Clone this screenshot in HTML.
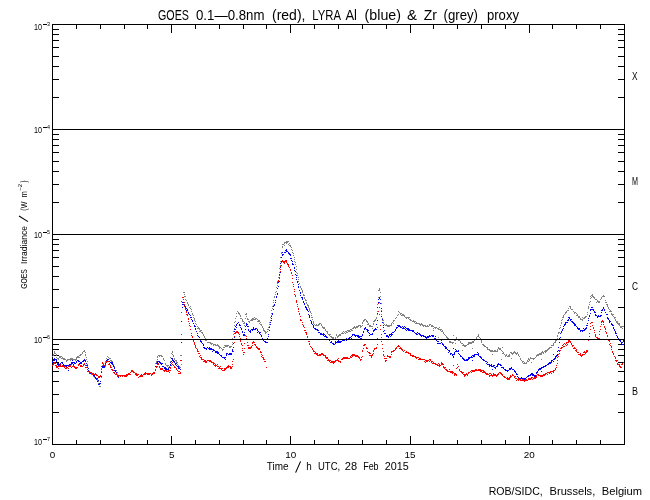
<!DOCTYPE html><html><head><meta charset="utf-8"><style>html,body{margin:0;padding:0;background:#fff}svg{display:block}svg{will-change:transform}text{font-family:"Liberation Sans",sans-serif;fill:#000}</style></head><body>
<svg width="650" height="500" viewBox="0 0 650 500">
<rect width="650" height="500" fill="#fff"/>
<path d="M52.5 24.5H624.5V444.5H52.5ZM53 412.5h6M624 412.5h-6M53 394.5h6M624 394.5h-6M53 381.5h6M624 381.5h-6M53 371.5h6M624 371.5h-6M53 362.5h6M624 362.5h-6M53 355.5h6M624 355.5h-6M53 349.5h6M624 349.5h-6M53 344.5h6M624 344.5h-6M53 307.5h6M624 307.5h-6M53 289.5h6M624 289.5h-6M53 276.5h6M624 276.5h-6M53 266.5h6M624 266.5h-6M53 257.5h6M624 257.5h-6M53 250.5h6M624 250.5h-6M53 244.5h6M624 244.5h-6M53 239.5h6M624 239.5h-6M53 202.5h6M624 202.5h-6M53 184.5h6M624 184.5h-6M53 171.5h6M624 171.5h-6M53 161.5h6M624 161.5h-6M53 152.5h6M624 152.5h-6M53 145.5h6M624 145.5h-6M53 139.5h6M624 139.5h-6M53 134.5h6M624 134.5h-6M53 97.5h6M624 97.5h-6M53 79.5h6M624 79.5h-6M53 66.5h6M624 66.5h-6M53 56.5h6M624 56.5h-6M53 47.5h6M624 47.5h-6M53 40.5h6M624 40.5h-6M53 34.5h6M624 34.5h-6M53 29.5h6M624 29.5h-6M76.5 444v-4M76.5 25v4M100.5 444v-4M100.5 25v4M124.5 444v-4M124.5 25v4M147.5 444v-4M147.5 25v4M171.5 444v-8M171.5 25v8M195.5 444v-4M195.5 25v4M219.5 444v-4M219.5 25v4M243.5 444v-4M243.5 25v4M266.5 444v-4M266.5 25v4M290.5 444v-8M290.5 25v8M314.5 444v-4M314.5 25v4M338.5 444v-4M338.5 25v4M362.5 444v-4M362.5 25v4M386.5 444v-4M386.5 25v4M410.5 444v-8M410.5 25v8M433.5 444v-4M433.5 25v4M457.5 444v-4M457.5 25v4M481.5 444v-4M481.5 25v4M505.5 444v-4M505.5 25v4M529.5 444v-8M529.5 25v8M552.5 444v-4M552.5 25v4M576.5 444v-4M576.5 25v4M600.5 444v-4M600.5 25v4" stroke="#000" stroke-width="1" fill="none" shape-rendering="crispEdges"/>
<text transform="translate(158.00 20) scale(0.7398 1)" font-size="14.5" fill="#000">GOES</text>
<text transform="translate(196.00 20) scale(0.9139 1)" font-size="14.5" fill="#000">0.1—0.8nm</text>
<text transform="translate(272.00 20) scale(0.9671 1)" font-size="14.5" fill="#000">(red),</text>
<text transform="translate(312.30 20) scale(0.7799 1)" font-size="14.5" fill="#000">LYRA</text>
<text transform="translate(345.40 20) scale(0.8999 1)" font-size="14.5" fill="#000">Al</text>
<text transform="translate(364.60 20) scale(0.9818 1)" font-size="14.5" fill="#000">(blue)</text>
<text transform="translate(407.00 20) scale(1.0340 1)" font-size="14.5" fill="#000">&amp;</text>
<text transform="translate(423.80 20) scale(0.9643 1)" font-size="14.5" fill="#000">Zr</text>
<text transform="translate(443.50 20) scale(0.9113 1)" font-size="14.5" fill="#000">(grey)</text>
<text transform="translate(487.00 20) scale(0.9026 1)" font-size="14.5" fill="#000">proxy</text>
<text transform="translate(266.70 470) scale(0.9781 1)" font-size="10.2" fill="#000">Time</text>
<text transform="translate(306.30 470) scale(0.9698 1)" font-size="10.2" fill="#000">h</text>
<text transform="translate(318.00 470) scale(0.9329 1)" font-size="10.2" fill="#000">UTC,</text>
<text transform="translate(344.80 470) scale(1.0844 1)" font-size="10.2" fill="#000">28</text>
<text transform="translate(363.20 470) scale(0.8763 1)" font-size="10.2" fill="#000">Feb</text>
<text transform="translate(384.80 470) scale(1.0575 1)" font-size="10.2" fill="#000">2015</text>
<text transform="translate(488.70 495) scale(0.9123 1)" font-size="11.6" fill="#000">ROB/SIDC,</text>
<text transform="translate(549.60 495) scale(0.9581 1)" font-size="11.6" fill="#000">Brussels,</text>
<text transform="translate(601.80 495) scale(0.9616 1)" font-size="11.6" fill="#000">Belgium</text>
<text transform="translate(632.00 80) scale(0.7109 1)" font-size="11.6" fill="#000">X</text>
<text transform="translate(632.00 185) scale(0.6209 1)" font-size="11.6" fill="#000">M</text>
<text transform="translate(632.00 290) scale(0.7164 1)" font-size="11.6" fill="#000">C</text>
<text transform="translate(632.00 395) scale(0.7755 1)" font-size="11.6" fill="#000">B</text>
<text transform="translate(34.00 30) scale(0.8464 1)" font-size="8.5" fill="#000">10</text>
<rect x="43" y="24" width="4" height="1" fill="#000"/>
<text transform="translate(47.00 26) scale(0.9466 1)" font-size="5.7" fill="#000">3</text>
<text transform="translate(34.00 133) scale(0.8464 1)" font-size="8.5" fill="#000">10</text>
<rect x="43" y="127" width="4" height="1" fill="#000"/>
<text transform="translate(47.00 129) scale(0.9466 1)" font-size="5.7" fill="#000">4</text>
<text transform="translate(34.00 238) scale(0.8464 1)" font-size="8.5" fill="#000">10</text>
<rect x="43" y="232" width="4" height="1" fill="#000"/>
<text transform="translate(47.00 234) scale(0.9466 1)" font-size="5.7" fill="#000">5</text>
<text transform="translate(34.00 343) scale(0.8464 1)" font-size="8.5" fill="#000">10</text>
<rect x="43" y="337" width="4" height="1" fill="#000"/>
<text transform="translate(47.00 339) scale(0.9466 1)" font-size="5.7" fill="#000">6</text>
<text transform="translate(34.00 445) scale(0.8464 1)" font-size="8.5" fill="#000">10</text>
<rect x="43" y="439" width="4" height="1" fill="#000"/>
<text transform="translate(47.00 441) scale(0.9466 1)" font-size="5.7" fill="#000">7</text>
<text transform="translate(49.75 458) scale(1.1638 1)" font-size="8.5" fill="#000">0</text>
<text transform="translate(168.92 458) scale(1.1638 1)" font-size="8.5" fill="#000">5</text>
<text transform="translate(285.33 458) scale(1.1638 1)" font-size="8.5" fill="#000">10</text>
<text transform="translate(404.50 458) scale(1.1638 1)" font-size="8.5" fill="#000">15</text>
<text transform="translate(523.67 458) scale(1.1638 1)" font-size="8.5" fill="#000">20</text>
<text transform="translate(26.5 0) rotate(-90) translate(-288.70 0) scale(0.7756 1)" font-size="8.7">GOES</text>
<text transform="translate(26.5 0) rotate(-90) translate(-263.90 0) scale(0.9770 1)" font-size="8.7">Irradiance</text>
<text transform="translate(26.5 0) rotate(-90) translate(-210.70 0) scale(0.8191 1)" font-size="8.7">(W</text>
<text transform="translate(26.5 0) rotate(-90) translate(-197.60 0) scale(0.8693 1)" font-size="8.7">m</text>
<text transform="translate(26.5 0) rotate(-90) translate(-182.50 0) scale(0.6903 1)" font-size="8.7">)</text>
<text transform="translate(22 0) rotate(-90) translate(-190.70 0) scale(1.0311 1)" font-size="5.7">−2</text>
<path d="M295.6 472.6L300.6 461.4M19 216L28 221.6" stroke="#000" stroke-width="1.1" fill="none"/>
<path d="M286 241h3v1h-3zM284 242h4v1h-4zM284 243h1v1h-1zM286 243h1v1h-1zM289 243h1v1h-1zM282 244h2v1h-2zM288 244h1v1h-1zM284 245h1v1h-1zM289 245h2v1h-2zM282 246h1v1h-1zM290 246h1v1h-1zM282 247h1v1h-1zM291 247h1v1h-1zM291 249h1v1h-1zM292 250h1v1h-1zM281 252h1v1h-1zM292 252h1v1h-1zM281 253h1v1h-1zM293 253h1v1h-1zM293 255h1v1h-1zM280 257h1v1h-1zM294 257h1v1h-1zM294 259h1v1h-1zM280 261h1v1h-1zM294 261h1v1h-1zM295 262h1v1h-1zM295 264h1v1h-1zM280 265h1v1h-1zM296 266h1v1h-1zM279 268h1v1h-1zM296 269h1v1h-1zM279 272h1v1h-1zM296 272h1v1h-1zM297 273h1v1h-1zM279 275h1v1h-1zM297 275h1v1h-1zM278 277h1v1h-1zM298 277h1v1h-1zM298 279h1v1h-1zM278 280h1v1h-1zM277 281h1v1h-1zM298 281h1v1h-1zM277 283h1v1h-1zM299 283h1v1h-1zM277 285h1v1h-1zM300 286h1v1h-1zM276 287h1v1h-1zM300 287h1v1h-1zM301 288h1v1h-1zM379 288h1v1h-1zM301 289h1v1h-1zM379 289h1v1h-1zM302 290h1v1h-1zM378 290h2v1h-2zM276 291h1v1h-1zM302 291h1v1h-1zM183 292h2v1h-2zM275 292h1v1h-1zM302 292h1v1h-1zM380 292h1v1h-1zM184 294h1v1h-1zM275 294h1v1h-1zM303 294h1v1h-1zM592 294h1v1h-1zM303 295h2v1h-2zM591 295h2v1h-2zM603 295h1v1h-1zM184 296h2v1h-2zM274 296h1v1h-1zM380 296h1v1h-1zM590 296h1v1h-1zM592 296h2v1h-2zM602 296h3v1h-3zM274 297h1v1h-1zM304 297h1v1h-1zM378 297h1v1h-1zM591 297h1v1h-1zM593 297h2v1h-2zM601 297h1v1h-1zM304 298h1v1h-1zM590 298h1v1h-1zM594 298h1v1h-1zM601 298h1v1h-1zM185 299h1v1h-1zM305 299h1v1h-1zM595 299h2v1h-2zM600 299h1v1h-1zM186 300h1v1h-1zM273 300h1v1h-1zM305 300h2v1h-2zM597 300h1v1h-1zM605 300h1v1h-1zM590 301h1v1h-1zM597 301h3v1h-3zM187 302h1v1h-1zM273 302h1v1h-1zM306 302h1v1h-1zM589 302h1v1h-1zM596 302h1v1h-1zM598 302h2v1h-2zM605 302h2v1h-2zM187 303h1v1h-1zM306 303h1v1h-1zM381 303h1v1h-1zM188 304h1v1h-1zM307 304h1v1h-1zM377 304h1v1h-1zM589 304h1v1h-1zM606 304h2v1h-2zM188 305h1v1h-1zM273 305h1v1h-1zM307 305h2v1h-2zM607 305h1v1h-1zM190 306h1v1h-1zM272 306h1v1h-1zM308 306h1v1h-1zM569 306h2v1h-2zM588 306h1v1h-1zM607 306h1v1h-1zM189 307h1v1h-1zM308 307h1v1h-1zM570 307h1v1h-1zM588 307h1v1h-1zM608 307h1v1h-1zM190 308h1v1h-1zM272 308h1v1h-1zM309 308h1v1h-1zM568 308h1v1h-1zM570 308h1v1h-1zM588 308h1v1h-1zM608 308h1v1h-1zM191 309h1v1h-1zM309 309h1v1h-1zM571 309h2v1h-2zM609 309h1v1h-1zM271 310h1v1h-1zM309 310h1v1h-1zM381 310h1v1h-1zM567 310h2v1h-2zM610 310h1v1h-1zM191 311h1v1h-1zM237 311h1v1h-1zM310 311h1v1h-1zM377 311h1v1h-1zM398 311h1v1h-1zM566 311h1v1h-1zM573 311h1v1h-1zM609 311h3v1h-3zM238 312h1v1h-1zM310 312h1v1h-1zM399 312h1v1h-1zM565 312h2v1h-2zM574 312h2v1h-2zM587 312h1v1h-1zM192 313h1v1h-1zM236 313h1v1h-1zM238 313h2v1h-2zM246 313h1v1h-1zM271 313h1v1h-1zM311 313h1v1h-1zM400 313h2v1h-2zM565 313h1v1h-1zM574 313h1v1h-1zM576 313h1v1h-1zM611 313h1v1h-1zM192 314h1v1h-1zM239 314h1v1h-1zM245 314h2v1h-2zM377 314h1v1h-1zM381 314h1v1h-1zM398 314h1v1h-1zM400 314h1v1h-1zM402 314h2v1h-2zM564 314h1v1h-1zM577 314h1v1h-1zM587 314h1v1h-1zM611 314h3v1h-3zM193 315h1v1h-1zM240 315h1v1h-1zM271 315h1v1h-1zM311 315h1v1h-1zM397 315h1v1h-1zM401 315h4v1h-4zM563 315h1v1h-1zM576 315h2v1h-2zM612 315h1v1h-1zM236 316h1v1h-1zM240 316h1v1h-1zM246 316h1v1h-1zM404 316h1v1h-1zM563 316h1v1h-1zM578 316h2v1h-2zM585 316h2v1h-2zM613 316h1v1h-1zM193 317h1v1h-1zM254 317h1v1h-1zM270 317h1v1h-1zM311 317h2v1h-2zM376 317h1v1h-1zM396 317h1v1h-1zM405 317h5v1h-5zM562 317h2v1h-2zM578 317h2v1h-2zM582 317h1v1h-1zM584 317h2v1h-2zM614 317h2v1h-2zM194 318h1v1h-1zM235 318h1v1h-1zM240 318h2v1h-2zM245 318h1v1h-1zM247 318h1v1h-1zM252 318h2v1h-2zM255 318h2v1h-2zM376 318h1v1h-1zM382 318h1v1h-1zM395 318h1v1h-1zM406 318h1v1h-1zM408 318h1v1h-1zM580 318h1v1h-1zM583 318h2v1h-2zM614 318h1v1h-1zM194 319h1v1h-1zM242 319h1v1h-1zM247 319h2v1h-2zM251 319h5v1h-5zM257 319h1v1h-1zM312 319h1v1h-1zM364 319h2v1h-2zM375 319h1v1h-1zM409 319h2v1h-2zM562 319h1v1h-1zM580 319h3v1h-3zM615 319h1v1h-1zM194 320h1v1h-1zM242 320h1v1h-1zM250 320h3v1h-3zM258 320h2v1h-2zM270 320h1v1h-1zM363 320h2v1h-2zM366 320h1v1h-1zM374 320h2v1h-2zM382 320h2v1h-2zM393 320h2v1h-2zM410 320h2v1h-2zM413 320h1v1h-1zM561 320h1v1h-1zM582 320h1v1h-1zM615 320h1v1h-1zM195 321h1v1h-1zM235 321h1v1h-1zM242 321h2v1h-2zM248 321h2v1h-2zM257 321h3v1h-3zM313 321h1v1h-1zM363 321h1v1h-1zM366 321h2v1h-2zM373 321h2v1h-2zM393 321h1v1h-1zM412 321h4v1h-4zM616 321h2v1h-2zM234 322h1v1h-1zM244 322h1v1h-1zM249 322h1v1h-1zM260 322h1v1h-1zM269 322h1v1h-1zM313 322h1v1h-1zM362 322h1v1h-1zM367 322h1v1h-1zM383 322h1v1h-1zM392 322h1v1h-1zM414 322h1v1h-1zM416 322h1v1h-1zM561 322h1v1h-1zM616 322h2v1h-2zM195 323h1v1h-1zM243 323h2v1h-2zM259 323h1v1h-1zM313 323h1v1h-1zM319 323h2v1h-2zM362 323h1v1h-1zM368 323h1v1h-1zM373 323h1v1h-1zM383 323h1v1h-1zM391 323h1v1h-1zM393 323h1v1h-1zM415 323h5v1h-5zM421 323h1v1h-1zM561 323h1v1h-1zM617 323h3v1h-3zM196 324h1v1h-1zM260 324h2v1h-2zM269 324h1v1h-1zM314 324h1v1h-1zM316 324h1v1h-1zM318 324h2v1h-2zM321 324h1v1h-1zM367 324h2v1h-2zM373 324h1v1h-1zM384 324h1v1h-1zM386 324h1v1h-1zM391 324h1v1h-1zM419 324h4v1h-4zM429 324h2v1h-2zM618 324h2v1h-2zM234 325h1v1h-1zM244 325h1v1h-1zM261 325h1v1h-1zM315 325h4v1h-4zM321 325h1v1h-1zM358 325h3v1h-3zM362 325h1v1h-1zM369 325h2v1h-2zM385 325h7v1h-7zM420 325h1v1h-1zM422 325h4v1h-4zM427 325h1v1h-1zM429 325h1v1h-1zM431 325h2v1h-2zM560 325h1v1h-1zM619 325h1v1h-1zM197 326h1v1h-1zM262 326h1v1h-1zM269 326h1v1h-1zM322 326h1v1h-1zM354 326h1v1h-1zM356 326h3v1h-3zM360 326h2v1h-2zM369 326h4v1h-4zM387 326h3v1h-3zM423 326h1v1h-1zM425 326h4v1h-4zM431 326h3v1h-3zM620 326h4v1h-4zM198 327h1v1h-1zM262 327h1v1h-1zM268 327h1v1h-1zM322 327h3v1h-3zM353 327h5v1h-5zM360 327h1v1h-1zM434 327h3v1h-3zM439 327h1v1h-1zM560 327h1v1h-1zM620 327h2v1h-2zM197 328h3v1h-3zM234 328h1v1h-1zM263 328h1v1h-1zM323 328h2v1h-2zM352 328h2v1h-2zM355 328h1v1h-1zM372 328h1v1h-1zM433 328h1v1h-1zM435 328h1v1h-1zM437 328h2v1h-2zM559 328h1v1h-1zM622 328h1v1h-1zM199 329h1v1h-1zM263 329h1v1h-1zM267 329h2v1h-2zM325 329h1v1h-1zM350 329h2v1h-2zM438 329h4v1h-4zM200 330h2v1h-2zM263 330h2v1h-2zM325 330h1v1h-1zM347 330h3v1h-3zM351 330h2v1h-2zM433 330h1v1h-1zM440 330h1v1h-1zM442 330h1v1h-1zM199 331h2v1h-2zM233 331h1v1h-1zM264 331h2v1h-2zM267 331h1v1h-1zM326 331h2v1h-2zM343 331h1v1h-1zM345 331h2v1h-2zM348 331h3v1h-3zM441 331h2v1h-2zM201 332h2v1h-2zM265 332h2v1h-2zM327 332h1v1h-1zM342 332h1v1h-1zM344 332h1v1h-1zM346 332h2v1h-2zM443 332h1v1h-1zM558 332h2v1h-2zM202 333h1v1h-1zM265 333h1v1h-1zM327 333h1v1h-1zM341 333h3v1h-3zM345 333h1v1h-1zM443 333h1v1h-1zM558 333h1v1h-1zM181 334h1v1h-1zM203 334h1v1h-1zM233 334h1v1h-1zM328 334h3v1h-3zM336 334h1v1h-1zM339 334h2v1h-2zM444 334h1v1h-1zM478 334h1v1h-1zM203 335h1v1h-1zM329 335h1v1h-1zM336 335h1v1h-1zM338 335h3v1h-3zM445 335h1v1h-1zM453 335h1v1h-1zM478 335h1v1h-1zM557 335h1v1h-1zM204 336h1v1h-1zM330 336h2v1h-2zM337 336h2v1h-2zM446 336h1v1h-1zM477 336h2v1h-2zM557 336h1v1h-1zM204 337h1v1h-1zM331 337h3v1h-3zM335 337h1v1h-1zM337 337h1v1h-1zM438 337h1v1h-1zM446 337h2v1h-2zM456 337h1v1h-1zM476 337h1v1h-1zM479 337h1v1h-1zM205 338h1v1h-1zM232 338h1v1h-1zM332 338h2v1h-2zM335 338h1v1h-1zM447 338h2v1h-2zM456 338h1v1h-1zM476 338h1v1h-1zM480 338h1v1h-1zM557 338h1v1h-1zM206 339h2v1h-2zM334 339h1v1h-1zM447 339h3v1h-3zM454 339h5v1h-5zM474 339h2v1h-2zM480 339h1v1h-1zM556 339h1v1h-1zM205 340h2v1h-2zM454 340h2v1h-2zM458 340h2v1h-2zM474 340h1v1h-1zM481 340h1v1h-1zM555 340h2v1h-2zM449 341h2v1h-2zM460 341h1v1h-1zM472 341h2v1h-2zM481 341h1v1h-1zM555 341h1v1h-1zM207 342h4v1h-4zM232 342h1v1h-1zM449 342h5v1h-5zM460 342h1v1h-1zM468 342h6v1h-6zM481 342h1v1h-1zM554 342h2v1h-2zM210 343h3v1h-3zM452 343h1v1h-1zM455 343h1v1h-1zM461 343h2v1h-2zM468 343h4v1h-4zM553 343h1v1h-1zM211 344h1v1h-1zM213 344h3v1h-3zM217 344h1v1h-1zM232 344h1v1h-1zM463 344h1v1h-1zM467 344h2v1h-2zM482 344h2v1h-2zM553 344h1v1h-1zM213 345h1v1h-1zM215 345h4v1h-4zM224 345h5v1h-5zM462 345h5v1h-5zM483 345h2v1h-2zM551 345h3v1h-3zM218 346h2v1h-2zM225 346h3v1h-3zM229 346h3v1h-3zM464 346h2v1h-2zM484 346h2v1h-2zM219 347h2v1h-2zM223 347h2v1h-2zM229 347h2v1h-2zM486 347h2v1h-2zM498 347h1v1h-1zM502 347h1v1h-1zM549 347h3v1h-3zM219 348h1v1h-1zM221 348h1v1h-1zM472 348h1v1h-1zM487 348h1v1h-1zM498 348h3v1h-3zM548 348h2v1h-2zM222 349h2v1h-2zM487 349h3v1h-3zM497 349h1v1h-1zM499 349h2v1h-2zM547 349h2v1h-2zM84 350h1v1h-1zM222 350h1v1h-1zM462 350h1v1h-1zM489 350h4v1h-4zM494 350h2v1h-2zM497 350h1v1h-1zM501 350h1v1h-1zM545 350h3v1h-3zM54 351h1v1h-1zM83 351h2v1h-2zM172 351h1v1h-1zM490 351h8v1h-8zM502 351h1v1h-1zM514 351h1v1h-1zM542 351h1v1h-1zM544 351h3v1h-3zM54 352h1v1h-1zM82 352h1v1h-1zM85 352h1v1h-1zM172 352h1v1h-1zM503 352h1v1h-1zM510 352h2v1h-2zM513 352h3v1h-3zM517 352h1v1h-1zM541 352h3v1h-3zM545 352h1v1h-1zM54 353h2v1h-2zM82 353h1v1h-1zM171 353h1v1h-1zM502 353h2v1h-2zM511 353h3v1h-3zM515 353h3v1h-3zM539 353h3v1h-3zM543 353h1v1h-1zM53 354h1v1h-1zM56 354h1v1h-1zM80 354h2v1h-2zM85 354h1v1h-1zM172 354h1v1h-1zM492 354h1v1h-1zM504 354h1v1h-1zM506 354h1v1h-1zM509 354h1v1h-1zM512 354h1v1h-1zM516 354h1v1h-1zM518 354h1v1h-1zM537 354h5v1h-5zM53 355h1v1h-1zM56 355h1v1h-1zM79 355h2v1h-2zM85 355h1v1h-1zM158 355h4v1h-4zM173 355h1v1h-1zM180 355h2v1h-2zM505 355h2v1h-2zM508 355h2v1h-2zM518 355h1v1h-1zM536 355h3v1h-3zM52 356h1v1h-1zM59 356h3v1h-3zM77 356h2v1h-2zM107 356h1v1h-1zM157 356h1v1h-1zM159 356h1v1h-1zM161 356h2v1h-2zM173 356h1v1h-1zM505 356h1v1h-1zM507 356h3v1h-3zM519 356h1v1h-1zM536 356h1v1h-1zM56 357h1v1h-1zM59 357h2v1h-2zM62 357h1v1h-1zM76 357h4v1h-4zM86 357h1v1h-1zM108 357h1v1h-1zM157 357h1v1h-1zM170 357h1v1h-1zM530 357h1v1h-1zM535 357h1v1h-1zM57 358h2v1h-2zM61 358h4v1h-4zM70 358h3v1h-3zM76 358h1v1h-1zM106 358h1v1h-1zM109 358h2v1h-2zM163 358h1v1h-1zM174 358h1v1h-1zM511 358h1v1h-1zM520 358h1v1h-1zM528 358h1v1h-1zM530 358h5v1h-5zM58 359h1v1h-1zM63 359h3v1h-3zM67 359h10v1h-10zM86 359h1v1h-1zM157 359h1v1h-1zM163 359h1v1h-1zM174 359h1v1h-1zM501 359h1v1h-1zM520 359h1v1h-1zM528 359h2v1h-2zM533 359h1v1h-1zM541 359h1v1h-1zM66 360h2v1h-2zM70 360h1v1h-1zM72 360h1v1h-1zM75 360h1v1h-1zM106 360h1v1h-1zM110 360h2v1h-2zM164 360h1v1h-1zM175 360h2v1h-2zM521 360h1v1h-1zM527 360h1v1h-1zM529 360h1v1h-1zM66 361h1v1h-1zM87 361h1v1h-1zM105 361h1v1h-1zM111 361h2v1h-2zM156 361h1v1h-1zM170 361h1v1h-1zM176 361h1v1h-1zM522 361h2v1h-2zM527 361h2v1h-2zM102 362h1v1h-1zM105 362h1v1h-1zM112 362h1v1h-1zM156 362h1v1h-1zM176 362h2v1h-2zM522 362h1v1h-1zM524 362h1v1h-1zM526 362h1v1h-1zM531 362h1v1h-1zM103 363h1v1h-1zM112 363h1v1h-1zM155 363h1v1h-1zM165 363h1v1h-1zM523 363h4v1h-4zM87 364h1v1h-1zM103 364h1v1h-1zM113 364h1v1h-1zM165 364h1v1h-1zM177 364h1v1h-1zM181 364h1v1h-1zM102 365h3v1h-3zM113 365h1v1h-1zM166 365h3v1h-3zM170 365h1v1h-1zM178 365h1v1h-1zM87 366h1v1h-1zM104 366h2v1h-2zM114 366h1v1h-1zM167 366h1v1h-1zM169 366h1v1h-1zM178 366h2v1h-2zM168 367h1v1h-1zM179 367h2v1h-2zM88 368h1v1h-1zM101 368h1v1h-1zM114 368h1v1h-1zM88 370h1v1h-1zM115 370h2v1h-2zM89 371h1v1h-1zM89 372h2v1h-2zM101 372h1v1h-1zM116 372h2v1h-2zM89 373h3v1h-3zM116 373h1v1h-1zM91 374h2v1h-2zM117 374h1v1h-1zM93 375h1v1h-1zM118 375h1v1h-1zM93 376h2v1h-2zM94 377h2v1h-2zM101 377h1v1h-1zM118 377h1v1h-1zM95 378h1v1h-1zM96 379h2v1h-2zM97 380h1v1h-1zM97 381h2v1h-2zM100 381h1v1h-1zM98 383h1v1h-1zM99 384h1v1h-1zM99 386h2v1h-2z" fill="#808080" shape-rendering="crispEdges"/>
<path d="M286 249h1v1h-1zM285 250h2v1h-2zM286 251h2v1h-2zM282 252h1v1h-1zM284 252h2v1h-2zM288 252h1v1h-1zM288 253h2v1h-2zM282 254h2v1h-2zM289 254h2v1h-2zM282 255h1v1h-1zM290 255h1v1h-1zM281 257h1v1h-1zM290 258h2v1h-2zM291 260h1v1h-1zM281 261h1v1h-1zM292 261h1v1h-1zM280 263h1v1h-1zM292 263h1v1h-1zM292 264h2v1h-2zM280 267h1v1h-1zM294 267h1v1h-1zM294 268h1v1h-1zM294 270h1v1h-1zM295 271h1v1h-1zM280 272h1v1h-1zM279 274h1v1h-1zM295 274h1v1h-1zM296 275h1v1h-1zM279 277h1v1h-1zM296 277h1v1h-1zM296 279h1v1h-1zM279 281h1v1h-1zM297 281h1v1h-1zM278 282h1v1h-1zM297 282h1v1h-1zM298 284h1v1h-1zM278 286h1v1h-1zM298 286h1v1h-1zM298 287h1v1h-1zM277 288h1v1h-1zM299 290h1v1h-1zM300 292h1v1h-1zM277 293h1v1h-1zM300 293h1v1h-1zM277 294h1v1h-1zM300 295h1v1h-1zM276 296h1v1h-1zM276 297h1v1h-1zM301 297h2v1h-2zM379 297h1v1h-1zM302 298h1v1h-1zM379 298h1v1h-1zM302 299h1v1h-1zM378 299h1v1h-1zM380 299h1v1h-1zM275 300h1v1h-1zM303 301h1v1h-1zM182 302h2v1h-2zM275 302h1v1h-1zM303 302h1v1h-1zM378 302h1v1h-1zM304 303h1v1h-1zM380 303h1v1h-1zM182 304h3v1h-3zM274 304h1v1h-1zM304 304h1v1h-1zM184 305h1v1h-1zM274 305h1v1h-1zM185 306h1v1h-1zM273 306h1v1h-1zM305 306h1v1h-1zM182 307h1v1h-1zM185 307h1v1h-1zM305 307h2v1h-2zM377 307h1v1h-1zM591 307h2v1h-2zM603 307h1v1h-1zM186 308h1v1h-1zM306 308h1v1h-1zM381 308h1v1h-1zM603 308h1v1h-1zM187 309h1v1h-1zM273 309h1v1h-1zM306 309h2v1h-2zM590 309h4v1h-4zM602 309h1v1h-1zM604 309h1v1h-1zM186 310h2v1h-2zM307 310h1v1h-1zM590 310h1v1h-1zM593 310h1v1h-1zM601 310h2v1h-2zM604 310h1v1h-1zM308 311h1v1h-1zM381 311h1v1h-1zM594 311h1v1h-1zM188 312h1v1h-1zM594 312h2v1h-2zM601 312h1v1h-1zM605 312h1v1h-1zM188 313h1v1h-1zM272 313h1v1h-1zM377 313h1v1h-1zM590 313h1v1h-1zM189 314h1v1h-1zM272 314h1v1h-1zM308 314h1v1h-1zM595 314h1v1h-1zM606 314h2v1h-2zM190 315h1v1h-1zM309 315h1v1h-1zM589 315h1v1h-1zM595 315h2v1h-2zM598 315h1v1h-1zM600 315h2v1h-2zM271 316h1v1h-1zM309 316h1v1h-1zM381 316h1v1h-1zM589 316h1v1h-1zM597 316h4v1h-4zM190 317h2v1h-2zM309 317h1v1h-1zM568 317h2v1h-2zM597 317h1v1h-1zM607 317h1v1h-1zM271 318h1v1h-1zM569 318h1v1h-1zM588 318h1v1h-1zM607 318h2v1h-2zM191 319h1v1h-1zM382 319h1v1h-1zM568 319h1v1h-1zM570 319h2v1h-2zM608 319h1v1h-1zM192 320h1v1h-1zM271 320h1v1h-1zM310 320h1v1h-1zM377 320h1v1h-1zM567 320h2v1h-2zM570 320h1v1h-1zM588 320h1v1h-1zM609 320h1v1h-1zM181 321h1v1h-1zM192 321h1v1h-1zM311 321h1v1h-1zM571 321h2v1h-2zM609 321h2v1h-2zM238 322h1v1h-1zM270 322h1v1h-1zM311 322h1v1h-1zM382 322h1v1h-1zM565 322h3v1h-3zM572 322h2v1h-2zM609 322h1v1h-1zM193 323h1v1h-1zM237 323h1v1h-1zM246 323h1v1h-1zM311 323h1v1h-1zM565 323h1v1h-1zM573 323h2v1h-2zM587 323h1v1h-1zM611 323h1v1h-1zM236 324h1v1h-1zM239 324h1v1h-1zM246 324h2v1h-2zM270 324h1v1h-1zM312 324h1v1h-1zM376 324h1v1h-1zM564 324h2v1h-2zM574 324h2v1h-2zM611 324h2v1h-2zM194 325h1v1h-1zM236 325h1v1h-1zM239 325h2v1h-2zM246 325h1v1h-1zM313 325h1v1h-1zM383 325h1v1h-1zM397 325h3v1h-3zM564 325h1v1h-1zM574 325h2v1h-2zM586 325h2v1h-2zM612 325h2v1h-2zM194 326h2v1h-2zM235 326h1v1h-1zM245 326h1v1h-1zM247 326h2v1h-2zM313 326h1v1h-1zM398 326h3v1h-3zM402 326h1v1h-1zM404 326h1v1h-1zM563 326h1v1h-1zM576 326h1v1h-1zM236 327h1v1h-1zM240 327h1v1h-1zM253 327h1v1h-1zM269 327h1v1h-1zM313 327h1v1h-1zM365 327h1v1h-1zM383 327h1v1h-1zM396 327h2v1h-2zM400 327h2v1h-2zM403 327h1v1h-1zM405 327h1v1h-1zM577 327h1v1h-1zM586 327h1v1h-1zM613 327h1v1h-1zM195 328h1v1h-1zM241 328h1v1h-1zM253 328h1v1h-1zM255 328h2v1h-2zM314 328h2v1h-2zM364 328h2v1h-2zM375 328h1v1h-1zM396 328h1v1h-1zM402 328h3v1h-3zM406 328h3v1h-3zM563 328h1v1h-1zM577 328h3v1h-3zM583 328h1v1h-1zM585 328h2v1h-2zM613 328h1v1h-1zM195 329h1v1h-1zM234 329h2v1h-2zM241 329h1v1h-1zM245 329h1v1h-1zM248 329h1v1h-1zM251 329h5v1h-5zM257 329h1v1h-1zM315 329h3v1h-3zM364 329h1v1h-1zM366 329h2v1h-2zM374 329h3v1h-3zM395 329h1v1h-1zM405 329h1v1h-1zM407 329h3v1h-3zM562 329h1v1h-1zM578 329h2v1h-2zM584 329h2v1h-2zM614 329h1v1h-1zM248 330h1v1h-1zM250 330h1v1h-1zM252 330h1v1h-1zM257 330h1v1h-1zM269 330h1v1h-1zM317 330h2v1h-2zM367 330h2v1h-2zM373 330h2v1h-2zM384 330h1v1h-1zM395 330h1v1h-1zM406 330h1v1h-1zM408 330h6v1h-6zM562 330h1v1h-1zM580 330h5v1h-5zM614 330h1v1h-1zM196 331h1v1h-1zM234 331h1v1h-1zM242 331h1v1h-1zM249 331h2v1h-2zM258 331h1v1h-1zM363 331h1v1h-1zM367 331h1v1h-1zM373 331h1v1h-1zM383 331h1v1h-1zM394 331h1v1h-1zM412 331h2v1h-2zM561 331h1v1h-1zM580 331h1v1h-1zM582 331h1v1h-1zM615 331h1v1h-1zM242 332h1v1h-1zM244 332h1v1h-1zM250 332h1v1h-1zM257 332h1v1h-1zM259 332h2v1h-2zM318 332h2v1h-2zM363 332h1v1h-1zM368 332h1v1h-1zM392 332h2v1h-2zM414 332h1v1h-1zM417 332h1v1h-1zM561 332h1v1h-1zM615 332h1v1h-1zM197 333h1v1h-1zM259 333h1v1h-1zM320 333h2v1h-2zM323 333h1v1h-1zM369 333h1v1h-1zM372 333h1v1h-1zM384 333h2v1h-2zM391 333h1v1h-1zM415 333h2v1h-2zM418 333h2v1h-2zM560 333h1v1h-1zM615 333h2v1h-2zM243 334h2v1h-2zM260 334h1v1h-1zM268 334h1v1h-1zM320 334h5v1h-5zM352 334h3v1h-3zM362 334h1v1h-1zM370 334h3v1h-3zM389 334h4v1h-4zM416 334h2v1h-2zM419 334h2v1h-2zM197 335h1v1h-1zM243 335h2v1h-2zM261 335h1v1h-1zM323 335h1v1h-1zM325 335h1v1h-1zM352 335h1v1h-1zM354 335h5v1h-5zM362 335h1v1h-1zM369 335h1v1h-1zM386 335h2v1h-2zM389 335h1v1h-1zM391 335h1v1h-1zM420 335h4v1h-4zM429 335h1v1h-1zM431 335h3v1h-3zM616 335h1v1h-1zM198 336h1v1h-1zM261 336h1v1h-1zM268 336h1v1h-1zM324 336h3v1h-3zM351 336h1v1h-1zM355 336h1v1h-1zM357 336h5v1h-5zM386 336h3v1h-3zM390 336h1v1h-1zM421 336h1v1h-1zM423 336h3v1h-3zM427 336h4v1h-4zM432 336h2v1h-2zM435 336h1v1h-1zM617 336h1v1h-1zM199 337h1v1h-1zM234 337h1v1h-1zM326 337h2v1h-2zM349 337h2v1h-2zM358 337h2v1h-2zM388 337h1v1h-1zM425 337h4v1h-4zM560 337h1v1h-1zM617 337h1v1h-1zM262 338h1v1h-1zM267 338h1v1h-1zM346 338h1v1h-1zM348 338h2v1h-2zM351 338h1v1h-1zM360 338h2v1h-2zM426 338h1v1h-1zM434 338h2v1h-2zM559 338h1v1h-1zM618 338h1v1h-1zM199 339h1v1h-1zM262 339h2v1h-2zM327 339h2v1h-2zM342 339h4v1h-4zM347 339h2v1h-2zM434 339h3v1h-3zM618 339h2v1h-2zM200 340h1v1h-1zM263 340h1v1h-1zM329 340h1v1h-1zM338 340h1v1h-1zM342 340h3v1h-3zM346 340h1v1h-1zM436 340h1v1h-1zM441 340h1v1h-1zM619 340h2v1h-2zM623 340h1v1h-1zM200 341h2v1h-2zM264 341h2v1h-2zM331 341h1v1h-1zM335 341h1v1h-1zM337 341h5v1h-5zM437 341h2v1h-2zM620 341h1v1h-1zM623 341h1v1h-1zM181 342h1v1h-1zM201 342h1v1h-1zM265 342h3v1h-3zM330 342h2v1h-2zM335 342h6v1h-6zM441 342h1v1h-1zM559 342h1v1h-1zM621 342h2v1h-2zM202 343h1v1h-1zM233 343h1v1h-1zM332 343h2v1h-2zM335 343h1v1h-1zM437 343h4v1h-4zM442 343h1v1h-1zM621 343h1v1h-1zM203 344h1v1h-1zM333 344h2v1h-2zM442 344h2v1h-2zM622 344h1v1h-1zM203 345h1v1h-1zM443 345h1v1h-1zM444 346h2v1h-2zM203 347h2v1h-2zM207 347h1v1h-1zM209 347h1v1h-1zM233 347h1v1h-1zM445 347h2v1h-2zM558 347h1v1h-1zM204 348h3v1h-3zM208 348h4v1h-4zM445 348h2v1h-2zM453 348h1v1h-1zM206 349h1v1h-1zM209 349h5v1h-5zM232 349h1v1h-1zM447 349h1v1h-1zM455 349h1v1h-1zM213 350h2v1h-2zM232 350h1v1h-1zM448 350h2v1h-2zM456 350h1v1h-1zM458 350h1v1h-1zM558 350h1v1h-1zM212 351h1v1h-1zM215 351h3v1h-3zM232 351h1v1h-1zM449 351h1v1h-1zM455 351h4v1h-4zM557 351h1v1h-1zM215 352h4v1h-4zM448 352h1v1h-1zM454 352h1v1h-1zM477 352h1v1h-1zM217 353h2v1h-2zM226 353h2v1h-2zM229 353h3v1h-3zM450 353h2v1h-2zM454 353h1v1h-1zM458 353h1v1h-1zM478 353h1v1h-1zM219 354h1v1h-1zM226 354h1v1h-1zM228 354h4v1h-4zM450 354h1v1h-1zM452 354h3v1h-3zM459 354h1v1h-1zM474 354h5v1h-5zM553 354h1v1h-1zM557 354h1v1h-1zM220 355h2v1h-2zM226 355h1v1h-1zM452 355h1v1h-1zM460 355h1v1h-1zM472 355h3v1h-3zM478 355h1v1h-1zM556 355h2v1h-2zM221 356h1v1h-1zM453 356h1v1h-1zM460 356h2v1h-2zM471 356h1v1h-1zM473 356h2v1h-2zM479 356h2v1h-2zM555 356h2v1h-2zM222 357h4v1h-4zM453 357h1v1h-1zM462 357h1v1h-1zM468 357h5v1h-5zM480 357h2v1h-2zM555 357h1v1h-1zM54 358h1v1h-1zM171 358h2v1h-2zM224 358h1v1h-1zM462 358h2v1h-2zM468 358h2v1h-2zM481 358h1v1h-1zM554 358h2v1h-2zM53 359h4v1h-4zM84 359h1v1h-1zM107 359h2v1h-2zM172 359h1v1h-1zM225 359h1v1h-1zM463 359h2v1h-2zM466 359h3v1h-3zM482 359h2v1h-2zM553 359h2v1h-2zM53 360h2v1h-2zM56 360h1v1h-1zM72 360h1v1h-1zM77 360h2v1h-2zM83 360h3v1h-3zM106 360h1v1h-1zM172 360h2v1h-2zM464 360h4v1h-4zM472 360h1v1h-1zM483 360h2v1h-2zM551 360h2v1h-2zM52 361h1v1h-1zM56 361h1v1h-1zM76 361h1v1h-1zM78 361h2v1h-2zM82 361h2v1h-2zM85 361h1v1h-1zM108 361h2v1h-2zM157 361h3v1h-3zM171 361h1v1h-1zM173 361h2v1h-2zM485 361h2v1h-2zM551 361h1v1h-1zM553 361h1v1h-1zM52 362h1v1h-1zM61 362h2v1h-2zM71 362h4v1h-4zM76 362h1v1h-1zM80 362h2v1h-2zM106 362h1v1h-1zM110 362h3v1h-3zM157 362h1v1h-1zM159 362h2v1h-2zM170 362h1v1h-1zM174 362h1v1h-1zM487 362h1v1h-1zM549 362h3v1h-3zM57 363h2v1h-2zM60 363h1v1h-1zM62 363h1v1h-1zM71 363h2v1h-2zM74 363h2v1h-2zM79 363h3v1h-3zM86 363h1v1h-1zM105 363h1v1h-1zM111 363h2v1h-2zM156 363h2v1h-2zM160 363h3v1h-3zM175 363h2v1h-2zM486 363h1v1h-1zM498 363h1v1h-1zM548 363h3v1h-3zM57 364h4v1h-4zM63 364h1v1h-1zM69 364h2v1h-2zM73 364h1v1h-1zM112 364h1v1h-1zM161 364h1v1h-1zM170 364h1v1h-1zM175 364h1v1h-1zM487 364h3v1h-3zM491 364h1v1h-1zM497 364h4v1h-4zM547 364h2v1h-2zM58 365h3v1h-3zM63 365h6v1h-6zM70 365h1v1h-1zM86 365h2v1h-2zM105 365h1v1h-1zM113 365h1v1h-1zM170 365h1v1h-1zM176 365h1v1h-1zM489 365h3v1h-3zM493 365h2v1h-2zM497 365h1v1h-1zM500 365h2v1h-2zM545 365h2v1h-2zM64 366h3v1h-3zM69 366h1v1h-1zM102 366h3v1h-3zM113 366h1v1h-1zM155 366h2v1h-2zM162 366h2v1h-2zM177 366h2v1h-2zM489 366h1v1h-1zM491 366h3v1h-3zM496 366h2v1h-2zM543 366h3v1h-3zM67 367h1v1h-1zM87 367h1v1h-1zM102 367h3v1h-3zM114 367h1v1h-1zM164 367h2v1h-2zM169 367h1v1h-1zM178 367h1v1h-1zM494 367h2v1h-2zM501 367h3v1h-3zM511 367h1v1h-1zM541 367h3v1h-3zM68 368h1v1h-1zM88 368h1v1h-1zM114 368h1v1h-1zM164 368h3v1h-3zM168 368h1v1h-1zM178 368h2v1h-2zM495 368h1v1h-1zM503 368h1v1h-1zM509 368h3v1h-3zM539 368h3v1h-3zM101 369h1v1h-1zM165 369h4v1h-4zM180 369h1v1h-1zM492 369h1v1h-1zM504 369h2v1h-2zM509 369h2v1h-2zM512 369h2v1h-2zM538 369h3v1h-3zM68 370h1v1h-1zM88 370h1v1h-1zM114 370h2v1h-2zM166 370h1v1h-1zM168 370h2v1h-2zM505 370h4v1h-4zM514 370h1v1h-1zM538 370h1v1h-1zM89 371h1v1h-1zM115 371h1v1h-1zM507 371h1v1h-1zM514 371h2v1h-2zM537 371h1v1h-1zM541 371h1v1h-1zM89 372h3v1h-3zM101 372h1v1h-1zM116 372h1v1h-1zM515 372h1v1h-1zM536 372h2v1h-2zM89 373h3v1h-3zM516 373h1v1h-1zM531 373h2v1h-2zM536 373h1v1h-1zM92 374h1v1h-1zM116 374h1v1h-1zM516 374h2v1h-2zM530 374h4v1h-4zM93 375h2v1h-2zM528 375h3v1h-3zM532 375h4v1h-4zM94 376h1v1h-1zM101 376h1v1h-1zM117 376h1v1h-1zM517 376h1v1h-1zM527 376h2v1h-2zM534 376h2v1h-2zM95 377h1v1h-1zM118 377h1v1h-1zM518 377h1v1h-1zM521 377h1v1h-1zM526 377h1v1h-1zM95 378h3v1h-3zM519 378h7v1h-7zM96 379h1v1h-1zM519 379h1v1h-1zM522 379h1v1h-1zM524 379h1v1h-1zM526 379h1v1h-1zM98 380h1v1h-1zM97 381h1v1h-1zM100 381h1v1h-1zM99 383h2v1h-2zM98 384h2v1h-2z" fill="#0000ff" shape-rendering="crispEdges"/>
<path d="M282 260h1v1h-1zM285 260h2v1h-2zM282 261h5v1h-5zM281 262h1v1h-1zM283 262h2v1h-2zM286 262h1v1h-1zM284 263h1v1h-1zM287 263h1v1h-1zM287 264h2v1h-2zM281 265h1v1h-1zM288 265h1v1h-1zM280 266h1v1h-1zM288 266h1v1h-1zM289 267h1v1h-1zM280 269h1v1h-1zM290 269h1v1h-1zM290 270h1v1h-1zM280 271h1v1h-1zM291 272h1v1h-1zM291 273h1v1h-1zM279 275h1v1h-1zM292 275h1v1h-1zM279 277h1v1h-1zM279 278h1v1h-1zM292 278h1v1h-1zM278 280h1v1h-1zM278 281h1v1h-1zM277 282h1v1h-1zM292 282h1v1h-1zM293 284h1v1h-1zM293 286h1v1h-1zM294 289h1v1h-1zM294 291h1v1h-1zM294 294h1v1h-1zM295 295h1v1h-1zM295 296h1v1h-1zM182 297h2v1h-2zM183 299h1v1h-1zM296 300h1v1h-1zM181 301h1v1h-1zM296 301h1v1h-1zM184 302h1v1h-1zM296 302h1v1h-1zM379 302h1v1h-1zM378 303h1v1h-1zM184 304h1v1h-1zM297 304h1v1h-1zM184 306h1v1h-1zM297 306h1v1h-1zM379 307h1v1h-1zM185 308h1v1h-1zM298 308h1v1h-1zM185 309h1v1h-1zM298 309h1v1h-1zM186 311h1v1h-1zM298 311h1v1h-1zM378 311h1v1h-1zM181 312h1v1h-1zM186 312h1v1h-1zM299 313h1v1h-1zM186 314h2v1h-2zM299 314h1v1h-1zM379 314h1v1h-1zM187 315h1v1h-1zM300 316h1v1h-1zM188 318h1v1h-1zM188 319h1v1h-1zM300 319h1v1h-1zM300 320h2v1h-2zM602 320h1v1h-1zM188 321h1v1h-1zM601 321h3v1h-3zM302 322h1v1h-1zM591 322h2v1h-2zM601 322h1v1h-1zM603 322h1v1h-1zM189 323h1v1h-1zM590 323h1v1h-1zM302 324h1v1h-1zM601 324h1v1h-1zM603 324h1v1h-1zM189 325h1v1h-1zM303 325h1v1h-1zM380 325h1v1h-1zM592 325h1v1h-1zM190 326h1v1h-1zM303 326h1v1h-1zM590 326h1v1h-1zM600 326h1v1h-1zM604 326h1v1h-1zM304 327h1v1h-1zM377 327h1v1h-1zM593 327h1v1h-1zM604 327h1v1h-1zM593 328h1v1h-1zM605 328h1v1h-1zM190 329h1v1h-1zM380 329h1v1h-1zM590 329h1v1h-1zM600 329h1v1h-1zM605 329h1v1h-1zM304 330h2v1h-2zM594 330h1v1h-1zM236 331h2v1h-2zM599 331h1v1h-1zM605 331h1v1h-1zM235 332h4v1h-4zM305 332h2v1h-2zM594 332h1v1h-1zM606 332h1v1h-1zM191 333h1v1h-1zM234 333h2v1h-2zM238 333h1v1h-1zM306 333h1v1h-1zM589 333h1v1h-1zM606 333h1v1h-1zM181 334h1v1h-1zM239 334h1v1h-1zM306 334h1v1h-1zM381 334h1v1h-1zM595 334h1v1h-1zM599 334h1v1h-1zM191 335h1v1h-1zM245 335h1v1h-1zM595 335h1v1h-1zM607 335h1v1h-1zM192 336h1v1h-1zM234 336h1v1h-1zM239 336h1v1h-1zM246 336h1v1h-1zM307 336h1v1h-1zM589 336h1v1h-1zM595 336h1v1h-1zM607 336h1v1h-1zM192 337h1v1h-1zM307 337h1v1h-1zM381 337h1v1h-1zM596 337h2v1h-2zM240 338h1v1h-1zM246 338h1v1h-1zM377 338h1v1h-1zM597 338h3v1h-3zM192 339h1v1h-1zM245 339h2v1h-2zM308 339h1v1h-1zM608 339h1v1h-1zM193 340h1v1h-1zM240 340h1v1h-1zM568 340h2v1h-2zM588 340h1v1h-1zM608 340h2v1h-2zM193 341h1v1h-1zM240 341h1v1h-1zM253 341h1v1h-1zM308 341h2v1h-2zM381 341h1v1h-1zM568 341h3v1h-3zM609 341h1v1h-1zM194 342h1v1h-1zM234 342h1v1h-1zM247 342h1v1h-1zM252 342h3v1h-3zM566 342h3v1h-3zM570 342h1v1h-1zM194 343h1v1h-1zM241 343h1v1h-1zM244 343h1v1h-1zM252 343h1v1h-1zM309 343h1v1h-1zM564 343h1v1h-1zM566 343h1v1h-1zM571 343h1v1h-1zM610 343h1v1h-1zM194 344h1v1h-1zM241 344h1v1h-1zM254 344h2v1h-2zM309 344h1v1h-1zM364 344h2v1h-2zM377 344h1v1h-1zM382 344h1v1h-1zM563 344h1v1h-1zM565 344h1v1h-1zM567 344h1v1h-1zM571 344h1v1h-1zM609 344h1v1h-1zM195 345h1v1h-1zM242 345h1v1h-1zM247 345h2v1h-2zM252 345h1v1h-1zM255 345h1v1h-1zM363 345h2v1h-2zM398 345h1v1h-1zM562 345h1v1h-1zM566 345h1v1h-1zM572 345h2v1h-2zM610 345h1v1h-1zM195 346h1v1h-1zM251 346h1v1h-1zM256 346h1v1h-1zM310 346h1v1h-1zM397 346h3v1h-3zM563 346h2v1h-2zM572 346h1v1h-1zM611 346h1v1h-1zM195 347h1v1h-1zM248 347h4v1h-4zM256 347h2v1h-2zM311 347h1v1h-1zM366 347h1v1h-1zM376 347h1v1h-1zM396 347h1v1h-1zM400 347h1v1h-1zM561 347h2v1h-2zM574 347h1v1h-1zM611 347h1v1h-1zM196 348h1v1h-1zM242 348h1v1h-1zM244 348h1v1h-1zM248 348h3v1h-3zM257 348h3v1h-3zM312 348h1v1h-1zM363 348h1v1h-1zM366 348h2v1h-2zM374 348h3v1h-3zM382 348h1v1h-1zM395 348h2v1h-2zM399 348h3v1h-3zM560 348h2v1h-2zM573 348h3v1h-3zM197 349h1v1h-1zM258 349h2v1h-2zM312 349h1v1h-1zM374 349h1v1h-1zM395 349h1v1h-1zM401 349h2v1h-2zM576 349h1v1h-1zM611 349h1v1h-1zM197 350h1v1h-1zM242 350h1v1h-1zM313 350h1v1h-1zM362 350h1v1h-1zM373 350h1v1h-1zM393 350h2v1h-2zM402 350h1v1h-1zM404 350h1v1h-1zM559 350h2v1h-2zM575 350h2v1h-2zM586 350h2v1h-2zM197 351h2v1h-2zM233 351h1v1h-1zM260 351h1v1h-1zM313 351h2v1h-2zM362 351h1v1h-1zM367 351h1v1h-1zM373 351h1v1h-1zM383 351h1v1h-1zM391 351h3v1h-3zM403 351h1v1h-1zM406 351h1v1h-1zM559 351h1v1h-1zM576 351h1v1h-1zM584 351h1v1h-1zM586 351h2v1h-2zM612 351h1v1h-1zM243 352h2v1h-2zM260 352h2v1h-2zM315 352h1v1h-1zM368 352h2v1h-2zM391 352h1v1h-1zM405 352h4v1h-4zM577 352h2v1h-2zM583 352h4v1h-4zM612 352h1v1h-1zM198 353h2v1h-2zM314 353h4v1h-4zM321 353h2v1h-2zM369 353h2v1h-2zM373 353h1v1h-1zM408 353h3v1h-3zM559 353h1v1h-1zM580 353h1v1h-1zM585 353h1v1h-1zM613 353h1v1h-1zM243 354h1v1h-1zM261 354h1v1h-1zM316 354h2v1h-2zM319 354h5v1h-5zM352 354h3v1h-3zM372 354h1v1h-1zM383 354h1v1h-1zM391 354h1v1h-1zM410 354h1v1h-1zM558 354h1v1h-1zM578 354h3v1h-3zM582 354h3v1h-3zM613 354h1v1h-1zM200 355h1v1h-1zM262 355h1v1h-1zM317 355h4v1h-4zM323 355h3v1h-3zM351 355h7v1h-7zM369 355h4v1h-4zM383 355h1v1h-1zM387 355h1v1h-1zM410 355h4v1h-4zM580 355h3v1h-3zM199 356h1v1h-1zM261 356h1v1h-1zM325 356h1v1h-1zM350 356h1v1h-1zM352 356h1v1h-1zM355 356h4v1h-4zM362 356h1v1h-1zM371 356h1v1h-1zM384 356h1v1h-1zM387 356h4v1h-4zM412 356h4v1h-4zM558 356h1v1h-1zM581 356h1v1h-1zM614 356h1v1h-1zM200 357h2v1h-2zM262 357h2v1h-2zM325 357h3v1h-3zM343 357h5v1h-5zM350 357h2v1h-2zM358 357h2v1h-2zM361 357h1v1h-1zM371 357h1v1h-1zM389 357h2v1h-2zM415 357h4v1h-4zM557 357h1v1h-1zM615 357h1v1h-1zM201 358h1v1h-1zM263 358h1v1h-1zM326 358h2v1h-2zM338 358h1v1h-1zM342 358h8v1h-8zM359 358h1v1h-1zM384 358h3v1h-3zM416 358h1v1h-1zM419 358h2v1h-2zM615 358h1v1h-1zM201 359h3v1h-3zM233 359h1v1h-1zM263 359h2v1h-2zM328 359h1v1h-1zM337 359h1v1h-1zM341 359h2v1h-2zM360 359h2v1h-2zM418 359h7v1h-7zM429 359h2v1h-2zM107 360h1v1h-1zM180 360h2v1h-2zM204 360h2v1h-2zM207 360h4v1h-4zM327 360h4v1h-4zM335 360h4v1h-4zM360 360h1v1h-1zM385 360h2v1h-2zM425 360h4v1h-4zM430 360h1v1h-1zM557 360h1v1h-1zM615 360h3v1h-3zM106 361h3v1h-3zM203 361h4v1h-4zM209 361h3v1h-3zM232 361h1v1h-1zM264 361h2v1h-2zM329 361h1v1h-1zM331 361h5v1h-5zM338 361h3v1h-3zM385 361h1v1h-1zM424 361h1v1h-1zM426 361h2v1h-2zM429 361h1v1h-1zM431 361h2v1h-2zM616 361h1v1h-1zM54 362h1v1h-1zM102 362h1v1h-1zM106 362h1v1h-1zM172 362h1v1h-1zM205 362h2v1h-2zM211 362h3v1h-3zM330 362h5v1h-5zM340 362h1v1h-1zM425 362h1v1h-1zM431 362h1v1h-1zM433 362h1v1h-1zM441 362h1v1h-1zM623 362h1v1h-1zM53 363h3v1h-3zM84 363h1v1h-1zM102 363h1v1h-1zM109 363h1v1h-1zM158 363h1v1h-1zM171 363h1v1h-1zM213 363h2v1h-2zM333 363h1v1h-1zM432 363h4v1h-4zM438 363h1v1h-1zM441 363h2v1h-2zM557 363h1v1h-1zM617 363h1v1h-1zM622 363h1v1h-1zM53 364h1v1h-1zM60 364h1v1h-1zM71 364h1v1h-1zM78 364h2v1h-2zM83 364h2v1h-2zM103 364h1v1h-1zM105 364h1v1h-1zM108 364h2v1h-2zM157 364h2v1h-2zM172 364h1v1h-1zM213 364h1v1h-1zM215 364h1v1h-1zM217 364h1v1h-1zM232 364h1v1h-1zM435 364h3v1h-3zM439 364h1v1h-1zM441 364h3v1h-3zM457 364h1v1h-1zM617 364h3v1h-3zM621 364h2v1h-2zM52 365h1v1h-1zM55 365h2v1h-2zM59 365h2v1h-2zM62 365h1v1h-1zM69 365h2v1h-2zM73 365h1v1h-1zM78 365h1v1h-1zM80 365h2v1h-2zM83 365h1v1h-1zM85 365h1v1h-1zM103 365h3v1h-3zM110 365h1v1h-1zM171 365h1v1h-1zM173 365h1v1h-1zM214 365h3v1h-3zM228 365h1v1h-1zM437 365h4v1h-4zM453 365h1v1h-1zM556 365h1v1h-1zM619 365h1v1h-1zM56 366h10v1h-10zM68 366h3v1h-3zM72 366h3v1h-3zM80 366h3v1h-3zM101 366h1v1h-1zM110 366h1v1h-1zM156 366h2v1h-2zM159 366h1v1h-1zM174 366h1v1h-1zM215 366h1v1h-1zM217 366h2v1h-2zM220 366h1v1h-1zM227 366h4v1h-4zM232 366h1v1h-1zM439 366h1v1h-1zM443 366h1v1h-1zM458 366h1v1h-1zM619 366h2v1h-2zM56 367h2v1h-2zM64 367h1v1h-1zM66 367h2v1h-2zM71 367h1v1h-1zM74 367h4v1h-4zM85 367h2v1h-2zM110 367h2v1h-2zM156 367h1v1h-1zM159 367h1v1h-1zM170 367h1v1h-1zM174 367h2v1h-2zM219 367h1v1h-1zM226 367h3v1h-3zM230 367h2v1h-2zM266 367h1v1h-1zM443 367h3v1h-3zM457 367h1v1h-1zM556 367h1v1h-1zM620 367h2v1h-2zM58 368h1v1h-1zM65 368h2v1h-2zM68 368h1v1h-1zM75 368h2v1h-2zM160 368h3v1h-3zM170 368h1v1h-1zM176 368h1v1h-1zM218 368h5v1h-5zM224 368h3v1h-3zM230 368h2v1h-2zM444 368h1v1h-1zM456 368h1v1h-1zM555 368h1v1h-1zM87 369h1v1h-1zM101 369h1v1h-1zM111 369h2v1h-2zM155 369h1v1h-1zM160 369h3v1h-3zM176 369h1v1h-1zM221 369h1v1h-1zM224 369h2v1h-2zM445 369h2v1h-2zM449 369h1v1h-1zM459 369h1v1h-1zM475 369h2v1h-2zM478 369h3v1h-3zM555 369h1v1h-1zM112 370h2v1h-2zM131 370h2v1h-2zM155 370h1v1h-1zM163 370h4v1h-4zM168 370h3v1h-3zM177 370h1v1h-1zM222 370h3v1h-3zM446 370h2v1h-2zM459 370h1v1h-1zM471 370h13v1h-13zM553 370h2v1h-2zM87 371h3v1h-3zM101 371h1v1h-1zM131 371h3v1h-3zM164 371h1v1h-1zM166 371h3v1h-3zM178 371h2v1h-2zM447 371h6v1h-6zM460 371h2v1h-2zM470 371h1v1h-1zM472 371h3v1h-3zM480 371h2v1h-2zM483 371h2v1h-2zM550 371h4v1h-4zM89 372h3v1h-3zM113 372h2v1h-2zM130 372h1v1h-1zM133 372h2v1h-2zM145 372h1v1h-1zM153 372h2v1h-2zM169 372h1v1h-1zM180 372h1v1h-1zM450 372h4v1h-4zM461 372h3v1h-3zM468 372h2v1h-2zM471 372h1v1h-1zM482 372h4v1h-4zM499 372h2v1h-2zM547 372h4v1h-4zM553 372h1v1h-1zM89 373h1v1h-1zM91 373h3v1h-3zM95 373h1v1h-1zM114 373h1v1h-1zM116 373h1v1h-1zM128 373h2v1h-2zM135 373h2v1h-2zM144 373h7v1h-7zM152 373h3v1h-3zM178 373h3v1h-3zM452 373h1v1h-1zM454 373h2v1h-2zM462 373h1v1h-1zM466 373h1v1h-1zM468 373h1v1h-1zM485 373h3v1h-3zM489 373h2v1h-2zM493 373h1v1h-1zM498 373h1v1h-1zM500 373h2v1h-2zM545 373h2v1h-2zM549 373h1v1h-1zM551 373h1v1h-1zM92 374h5v1h-5zM115 374h2v1h-2zM126 374h5v1h-5zM135 374h4v1h-4zM141 374h1v1h-1zM143 374h3v1h-3zM147 374h3v1h-3zM151 374h2v1h-2zM454 374h3v1h-3zM463 374h5v1h-5zM486 374h3v1h-3zM491 374h1v1h-1zM493 374h3v1h-3zM497 374h2v1h-2zM501 374h2v1h-2zM512 374h1v1h-1zM537 374h2v1h-2zM543 374h3v1h-3zM547 374h1v1h-1zM96 375h2v1h-2zM100 375h1v1h-1zM117 375h11v1h-11zM136 375h2v1h-2zM140 375h3v1h-3zM151 375h1v1h-1zM454 375h1v1h-1zM456 375h1v1h-1zM464 375h2v1h-2zM467 375h1v1h-1zM489 375h9v1h-9zM502 375h1v1h-1zM510 375h1v1h-1zM512 375h2v1h-2zM536 375h1v1h-1zM538 375h7v1h-7zM98 376h3v1h-3zM117 376h2v1h-2zM120 376h1v1h-1zM122 376h1v1h-1zM124 376h3v1h-3zM139 376h4v1h-4zM464 376h1v1h-1zM489 376h1v1h-1zM492 376h1v1h-1zM496 376h1v1h-1zM503 376h2v1h-2zM510 376h2v1h-2zM514 376h2v1h-2zM536 376h1v1h-1zM540 376h3v1h-3zM98 377h2v1h-2zM138 377h1v1h-1zM504 377h2v1h-2zM507 377h1v1h-1zM509 377h2v1h-2zM514 377h1v1h-1zM531 377h2v1h-2zM534 377h3v1h-3zM506 378h4v1h-4zM515 378h2v1h-2zM518 378h1v1h-1zM528 378h4v1h-4zM533 378h3v1h-3zM507 379h3v1h-3zM517 379h4v1h-4zM522 379h2v1h-2zM525 379h2v1h-2zM528 379h3v1h-3zM532 379h1v1h-1zM516 380h1v1h-1zM518 380h1v1h-1zM520 380h8v1h-8zM524 381h1v1h-1z" fill="#ff0000" shape-rendering="crispEdges"/>
<path d="M52 129.5H625M52 234.5H625M52 339.5H625" stroke="#000" stroke-width="1" fill="none" shape-rendering="crispEdges"/>
</svg></body></html>
